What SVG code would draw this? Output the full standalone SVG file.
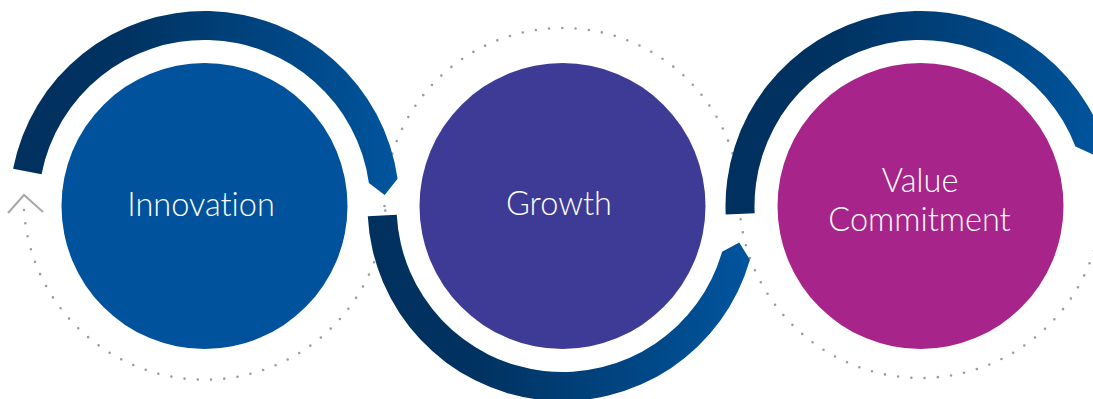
<svg xmlns="http://www.w3.org/2000/svg" width="1093" height="399" viewBox="0 0 1093 399">
  <defs>
    <linearGradient id="ring" x1="0" y1="0" x2="1" y2="0" gradientUnits="objectBoundingBox">
      <stop offset="0" stop-color="#00305E"/>
      <stop offset="0.3" stop-color="#003362"/>
      <stop offset="1" stop-color="#00559E"/>
    </linearGradient>
    <style>
      .dots { fill: none; stroke: #9c9c9c; stroke-width: 2.6; stroke-linecap: round; stroke-dasharray: 0 13.3; }
      .ring { fill: url(#ring); }
      .label { font-family: Lato, "Liberation Sans", sans-serif; font-weight: 300; font-size: 32.5px; fill: #ffffff; text-anchor: middle; font-variant-ligatures: none; }
    </style>
  </defs>
  <rect width="1093" height="399" fill="#ffffff"/>

  <g id="connectors">
    <path class="dots" d="M 24 210 A 181 181 0 0 0 385.5 206"/>
    <path class="dots" d="M 384.5 206 A 178 178 0 0 1 740.5 206"/>
    <path class="dots" d="M 739.5 206 A 181.5 181.5 0 0 0 1102 206"/>
    <polyline points="8,213 24,195 43,212" fill="none" stroke="#a8a8a8" stroke-width="2"/>
    <path class="ring" d="M 13.08 168.79 A 195 195 0 0 1 397.6 178.86 L 384.66 194.98 L 368.89 182.9 A 166 166 0 0 0 41.55 174.33 Z"/>
    <path class="ring" d="M 367.77 216.21 A 195 195 0 0 0 749.95 259.75 L 739.25 242.6 L 722.07 251.76 A 166 166 0 0 1 396.73 214.69 Z"/>
    <path class="ring" d="M 725.69 214.51 A 195 195 0 0 1 1102.55 136.12 L 1093.57 154.73 L 1075.47 146.51 A 166 166 0 0 0 754.66 213.24 Z"/>
  </g>

  <g id="innovation">
    <circle cx="204.5" cy="206" r="143" fill="#00529C"/>
    <text class="label" x="201" y="216">Innovation</text>
  </g>
  <g id="growth">
    <circle cx="562.5" cy="206" r="143" fill="#3E3B96"/>
    <text class="label" x="559" y="215">Growth</text>
  </g>
  <g id="value-commitment">
    <circle cx="920.5" cy="206" r="143" fill="#A7248A"/>
    <text class="label" x="920" y="192">Value</text>
    <text class="label" x="919.5" y="231">Commitment</text>
  </g>
</svg>
